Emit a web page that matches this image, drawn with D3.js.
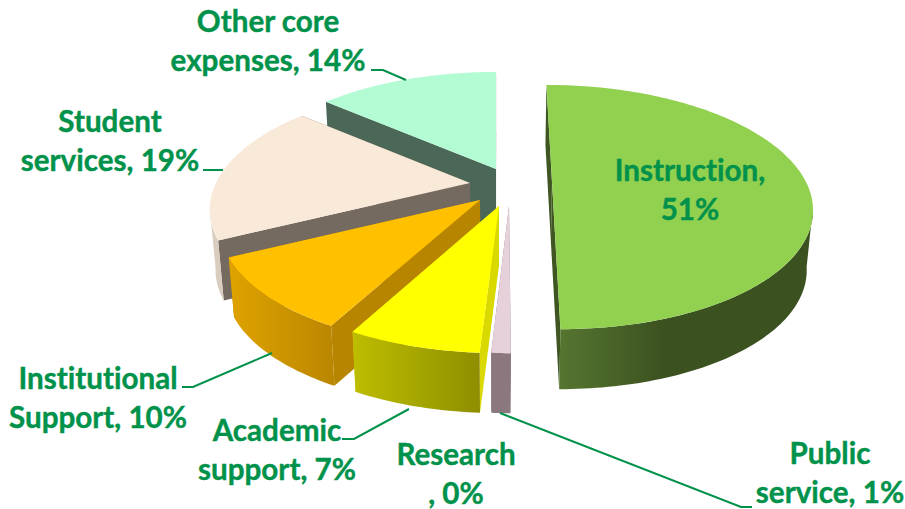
<!DOCTYPE html>
<html>
<head>
<meta charset="utf-8">
<script src="https://cdn.jsdelivr.net/npm/d3@7/dist/d3.min.js"></script>
<style>
  html, body { margin: 0; padding: 0; background: #fff; overflow: hidden; }
  svg { display: block; }
  text { font-variant-ligatures: none; }
</style>
</head>
<body>
<div id="chart"></div>
<script>
const categories = ['Instruction', 'Public service', 'Research', 'Academic support', 'Institutional Support', 'Student services', 'Other core expenses'];
const values = [51, 1, 0, 7, 10, 19, 14];
const labelLines = [
  ['Instruction,', '51%'],
  ['Public', 'service, 1%'],
  ['Research', ', 0%'],
  ['Academic', 'support, 7%'],
  ['Institutional', 'Support, 10%'],
  ['Student', 'services, 19%'],
  ['Other core', 'expenses, 14%'],
];

const W = 905, H = 509;
const GREEN = '#00924a';

// projection of the tilted disc: far side is squeezed, near side stretched
const PERSP = 0.205;
const DEPTH = 60;
const VANISH_X = 497;
const SHEAR = 0.122;
const WALL_SHRINK = 0.98;
const radiusX = d3.scaleLinear().domain([0, 1]).range([0, 254]);
const radiusY = d3.scaleLinear().domain([0, 1]).range([0, 117]);

// angles where the rim turns from back-facing to front-facing
const FRONT_FROM = Math.acos(-PERSP);
const FRONT_TO = 2 * Math.PI - FRONT_FROM;

// exploded slice apexes + colours, same order as categories
const sliceStyle = [
  { ax: 552, ay: 182, top: '#92d050', cut: '#3f5622', wall: ['#567530', '#3b5120', '#3b5120'] },
  { ax: 509, ay: 206, top: '#e6d0da', cut: '#8a787e', wall: ['#8a787e', '#8a787e', '#8a787e'] },
  { ax: 505, ay: 206, top: '#cccccc', cut: '#888888', wall: ['#888888', '#888888', '#888888'] },
  { ax: 499, ay: 206, top: '#ffff00', cut: '#d9d900', wall: ['#bdbd00', '#a6a600', '#8e8e00'] },
  { ax: 480, ay: 200, top: '#ffc000', cut: '#b88500', wall: ['#dfa200', '#cc9500', '#ba8600'] },
  { ax: 470, ay: 183, top: '#f8e9d9', cut: '#756a60', wall: ['#d9cdbf', '#d9cdbf', '#d9cdbf'] },
  { ax: 496, ay: 169, top: '#b2fbd3', cut: '#4a6758', wall: ['#4a6758', '#4a6758', '#4a6758'] },
];

// label centres and leader polylines (label end first, slice end last)
const labelLayout = [
  { x: 690, y: 181, leader: null },
  { x: 830, y: 464, leader: [[752, 507], [741, 507], [500, 413]] },
  { x: 456, y: 465, leader: null },
  { x: 277, y: 441, leader: [[342, 439], [354, 439], [409, 409]] },
  { x: 98, y: 389, leader: [[182, 387], [193, 387], [272, 353]] },
  { x: 110, y: 132, leader: [[203, 170], [223, 170]] },
  { x: 268, y: 32, leader: [[371, 70], [383, 70], [406, 80]] },
];

function project(theta, s) {
  const den = 1 + PERSP * Math.cos(theta);
  const u = Math.sin(theta) / den;
  const v = Math.cos(theta) / den;
  return [s.ax + radiusX(u) + (s.ax - VANISH_X) * SHEAR * -v, s.ay - radiusY(v)];
}
function drop(p) {
  return [VANISH_X + (p[0] - VANISH_X) * WALL_SHRINK, p[1] + DEPTH];
}
function arcPoints(a0, a1, s) {
  const n = Math.max(2, Math.ceil((a1 - a0) / 0.02));
  return d3.range(n + 1).map(i => project(a0 + (a1 - a0) * i / n, s));
}

const pie = d3.pie().sort(null).value(d => d).startAngle(0).endAngle(2 * Math.PI);
const arcs = pie(values).map((d, i) => ({ ...d, style: sliceStyle[i], name: categories[i], layout: labelLayout[i], lines: labelLines[i] }));

const svg = d3.select('#chart').append('svg').attr('width', W).attr('height', H).attr('viewBox', `0 0 ${W} ${H}`);
const closed = d3.line().curve(d3.curveLinearClosed);
const defs = svg.append('defs');

arcs.forEach((d, i) => {
  const grad = defs.append('linearGradient').attr('id', 'wall' + i).attr('x1', 0).attr('x2', 1).attr('y1', 0).attr('y2', 0);
  const stops = i === 0 ? [0, 0.42, 1] : [0, 0.5, 1];
  stops.forEach((o, j) => grad.append('stop').attr('offset', o).attr('stop-color', d.style.wall[j]));
});

// back to front: other core, student, institutional, academic, public, instruction
const order = [6, 5, 4, 3, 1, 0];
const g = svg.append('g').attr('class', 'pie');
order.forEach(i => {
  const d = arcs[i], s = d.style;
  if (d.endAngle - d.startAngle <= 0) return;
  const slice = g.append('g').attr('class', 'slice').attr('data-name', d.name);
  const apex = [s.ax, s.ay];
  [d.startAngle, d.endAngle].forEach(a => {
    const e = project(a, s);
    slice.append('path').attr('d', closed([apex, e, drop(e), drop(apex)])).attr('fill', s.cut);
  });
  // only the front part of the rim gets an outer wall
  const a0 = Math.max(d.startAngle, FRONT_FROM), a1 = Math.min(d.endAngle, FRONT_TO);
  if (a1 > a0) {
    const front = arcPoints(a0, a1, s);
    slice.append('path').attr('d', closed(front.concat(front.map(drop).reverse()))).attr('fill', `url(#wall${i})`);
  }
  slice.append('path').attr('d', closed([apex].concat(arcPoints(d.startAngle, d.endAngle, s)))).attr('fill', s.top);
});

const lead = d3.line();
const labels = svg.append('g').attr('class', 'labels');
arcs.forEach(d => {
  if (d.layout.leader) {
    labels.append('path').attr('d', lead(d.layout.leader)).attr('fill', 'none').attr('stroke', GREEN).attr('stroke-width', 2);
  }
  const t = labels.append('text').attr('text-anchor', 'middle').attr('fill', GREEN)
    .attr('stroke', GREEN).attr('stroke-width', 0.4)
    .attr('font-family', 'Lato, Carlito, sans-serif').attr('font-weight', 700).attr('font-size', 29.6);
  d.lines.forEach((ln, j) => t.append('tspan').attr('x', d.layout.x).attr('y', d.layout.y + j * 39).text(ln));
});
</script>
</body>
</html>
